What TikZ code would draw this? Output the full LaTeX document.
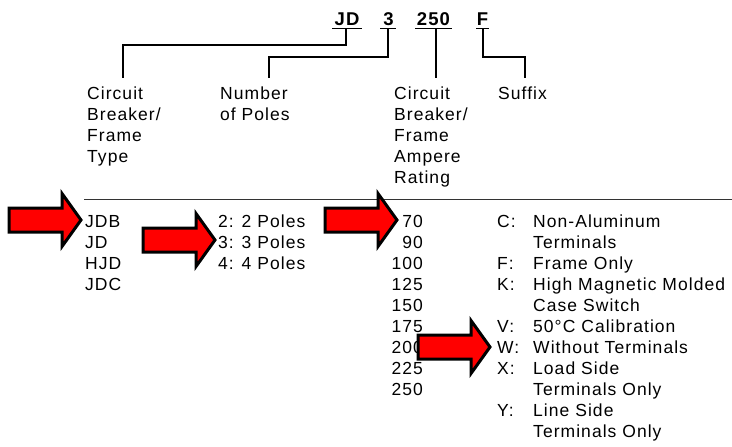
\documentclass[tikz,border=0pt]{standalone}
\usepackage{fontspec}
\setmainfont{Liberation Sans}[LetterSpace=6]
\begin{document}
\begin{tikzpicture}[x=1pt,y=-1pt,
  txt/.style={anchor=base west, inner sep=0pt, font=\fontsize{17.5}{21}\selectfont, align=left},
  rtxt/.style={anchor=base east, inner sep=0pt, font=\fontsize{17.5}{21}\selectfont, align=right},
  code/.style={anchor=base, inner sep=0pt, font=\bfseries\fontsize{18.5}{20}\selectfont},
  conn/.style={line width=1.2pt, black},
  uline/.style={line width=1.6pt, black},
  rulestyle/.style={line width=1pt, black!80},
  redarrow/.style={fill=red, draw=black, line width=3pt, miter limit=10, line join=miter},
  pics/blockarrow/.style={code={
    \path[redarrow] (0,0) -- (-19,-26.5) -- (-19,-12) -- (-72,-12) -- (-72,12)
      -- (-19,12) -- (-19,26.5) -- cycle;}}
]
\useasboundingbox (0,0) rectangle (732,447);

% header codes
\node[code] (jd) at (347,25) {JD};
\node[code] (n3) at (388.5,25) {3};
\node[code] (r250) at (433.5,25) {250};
\node[code] (fs) at (482.5,25) {F};
\draw[uline] (332,28.5) -- (362,28.5);
\draw[uline] (380,28.5) -- (396,28.5);
\draw[uline] (415,28.5) -- (452,28.5);
\draw[uline] (476,28.5) -- (489,28.5);

% header labels (base anchor = baseline of last line)
\node[txt] (lcb) at (87,162) {Circuit\\Breaker/\\Frame\\Type};
\node[txt] (lnp) at (220,120) {Number\\of Poles};
\node[txt] (lrt) at (394,183) {Circuit\\Breaker/\\Frame\\Ampere\\Rating};
\node[txt] (lsf) at (498,99) {Suffix};

\coordinate (jdu) at (346,28.5);
\coordinate (n3u) at (388,28.5);
\coordinate (r250u) at (436,28.5);
\coordinate (fsu) at (483,28.5);
\coordinate (lcbt) at (123,78);
\coordinate (lnpt) at (269,78);
\coordinate (lrtt) at (436,78);
\coordinate (lsft) at (525,78);

\draw[conn] (jdu) |- (lcbt |- 0,45) -- (lcbt);
\draw[conn] (n3u) |- (lnpt |- 0,57) -- (lnpt);
\draw[conn] (r250u) -- (lrtt);
\draw[conn] (fsu) |- (lsft |- 0,57) -- (lsft);

% rule
\coordinate (rl) at (84,199);
\coordinate (rr) at (732,199);
\draw[rulestyle] (rl) -- (rr);

% lists
\node[txt] (types) at (85,290) {JDB\\JD\\HJD\\JDC};
\node[txt] (poles) at (218,269) {2: 2 Poles\\3: 3 Poles\\4: 4 Poles};
\foreach \v [count=\i from 0] in {70,90,100,125,150,175,200,225,250}
  \node[rtxt] (amp\i) at (423,227+21*\i) {\v};
\foreach \l/\r in {C/0,F/2,K/3,V/5,W/6,X/7,Y/9}
  \node[txt] (sl\l) at (497,227+21*\r) {\l:};
\foreach \t [count=\i from 0] in {Non-Aluminum,Terminals,Frame Only,High Magnetic Molded,Case Switch,50°C Calibration,Without Terminals,Load Side,Terminals Only,Line Side,Terminals Only}
  \node[txt] (sd\i) at (533,227+21*\i) {\t};

% red arrows
\pic at (81,220) {blockarrow};
\pic at (215,240) {blockarrow};
\pic at (397,220) {blockarrow};
\pic at (490,347) {blockarrow};
\end{tikzpicture}
\end{document}
